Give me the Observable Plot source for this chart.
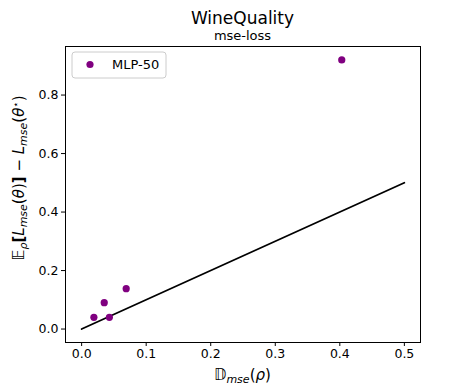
<!DOCTYPE html>
<html><head><meta charset="utf-8">
<script src="https://cdn.jsdelivr.net/npm/d3@7"></script>
<script src="https://cdn.jsdelivr.net/npm/@observablehq/plot@0.6"></script>
<style>body{margin:0;background:#fff;} svg{font-family:"DejaVu Sans",sans-serif;}</style>
</head><body><div id="chart"></div>
<script>
const seriesName = "MLP-50";
const dX = [0.019, 0.035, 0.043, 0.069, 0.403];
const dY = [0.040, 0.090, 0.040, 0.138, 0.920];
const refX = [0, 0.5];
const refY = [0, 0.5];
const xTicks = [0, 0.1, 0.2, 0.3, 0.4, 0.5];
const yTicks = [0, 0.2, 0.4, 0.6, 0.8];
const title = "WineQuality";
const subtitle = "mse-loss";

const points = dX.map((x, i) => ({x, y: dY[i]}));
const ref = refX.map((x, i) => ({x, y: refY[i]}));

const W = 467, H = 389;
const mL = 65, mR = 47, mT = 46, mB = 47;
const plot = Plot.plot({
  width: W, height: H,
  marginLeft: mL, marginRight: mR, marginTop: mT, marginBottom: mB,
  style: {fontFamily: "DejaVu Sans, sans-serif", fontSize: "12.5px", color: "#000", background: "#fff"},
  x: {domain: [-0.025, 0.525], ticks: xTicks, tickFormat: d3.format(".1f"), tickSize: 4, label: null},
  y: {domain: [-0.046, 0.966], ticks: yTicks, tickFormat: d3.format(".1f"), tickSize: 4, label: null},
  marks: [
    Plot.frame({stroke: "#000", strokeWidth: 1}),
    Plot.line(ref, {x: "x", y: "y", stroke: "#000", strokeWidth: 1.8}),
    Plot.dot(points, {x: "x", y: "y", r: 3.6, fill: "#800080", stroke: "none"}),
    Plot.axisX({ticks: xTicks, tickFormat: d3.format(".1f"), tickSize: 4, tickPadding: 3, fontSize: 12.5}),
    Plot.axisY({ticks: yTicks, tickFormat: d3.format(".1f"), tickSize: 4, tickPadding: 3, fontSize: 12.5})
  ]
});
document.getElementById("chart").appendChild(plot);
const svg = d3.select(plot);
const cx = mL + (W - mL - mR) / 2;
svg.append("text").attr("x", cx).attr("y", 24).attr("text-anchor", "middle")
  .attr("font-size", 17).attr("fill", "#000").text(title);
svg.append("text").attr("x", cx).attr("y", 40).attr("text-anchor", "middle")
  .attr("font-size", 13).attr("fill", "#000").text(subtitle);

// x label
const xl = svg.append("text").attr("x", cx).attr("y", 380).attr("text-anchor", "middle")
  .attr("font-size", 15).attr("fill", "#000");
xl.append("tspan").text("𝔻");
xl.append("tspan").attr("font-size", 11).attr("font-style", "italic").attr("dy", 3).text("mse");
xl.append("tspan").attr("dy", -3).text("(");
xl.append("tspan").attr("font-style", "italic").text("ρ");
xl.append("tspan").text(")");

// y label
const yl = svg.append("text").attr("transform", "translate(24,178) rotate(-90)")
  .attr("text-anchor", "middle").attr("font-size", 15).attr("fill", "#000");
yl.append("tspan").text("𝔼");
yl.append("tspan").attr("font-size", 11).attr("font-style", "italic").attr("dy", 3).text("ρ");
yl.append("tspan").attr("dy", -3).attr("font-weight", "bold").text("[");
yl.append("tspan").attr("font-style", "italic").text("L");
yl.append("tspan").attr("font-size", 11).attr("font-style", "italic").attr("dy", 3).text("mse");
yl.append("tspan").attr("dy", -3).text("(");
yl.append("tspan").attr("font-style", "italic").text("θ");
yl.append("tspan").text(")");
yl.append("tspan").attr("font-weight", "bold").text("]");
yl.append("tspan").text(" − ");
yl.append("tspan").attr("font-style", "italic").text("L");
yl.append("tspan").attr("font-size", 11).attr("font-style", "italic").attr("dy", 3).text("mse");
yl.append("tspan").attr("dy", -3).text("(");
yl.append("tspan").attr("font-style", "italic").text("θ");
yl.append("tspan").attr("font-size", 10).attr("dy", -5).text("⋆");
yl.append("tspan").attr("dy", 5).text(")");

// legend
const lg = svg.append("g");
lg.append("rect").attr("x", 72).attr("y", 52).attr("width", 94).attr("height", 26).attr("rx", 3)
  .attr("fill", "#fff").attr("fill-opacity", 0.8).attr("stroke", "#ccc").attr("stroke-width", 1);
lg.append("circle").attr("cx", 90).attr("cy", 64.5).attr("r", 3.6).attr("fill", "#800080");
lg.append("text").attr("x", 112).attr("y", 69).attr("text-anchor", "start")
  .attr("font-size", 13).attr("fill", "#000").text(seriesName);
</script></body></html>
